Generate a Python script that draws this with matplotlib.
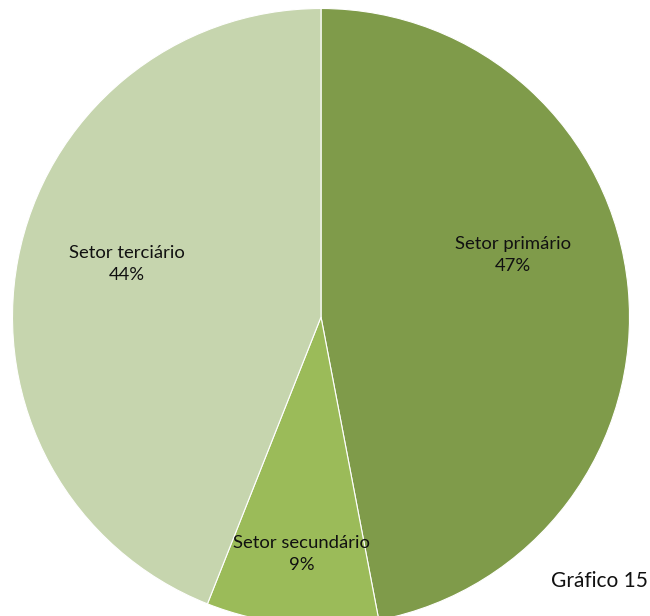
import matplotlib
matplotlib.use("Agg")
import matplotlib.pyplot as plt

# sector shares of the economy
labels = ["Setor primário", "Setor secundário", "Setor terciário"]
shares = [47, 9, 44]
colors = ["#7f9b4a", "#9bbb59", "#c6d5ae"]

fig = plt.figure(figsize=(6.5, 6.16), dpi=100)
ax = fig.add_axes([0, 0, 1, 1])

wedges, _ = ax.pie(shares, colors=colors, startangle=90, counterclock=False,
                   radius=1.0, wedgeprops=dict(edgecolor="white", linewidth=0.8))

# keep the circle round and slightly clipped at the bottom
R = 308.5
ax.set_xlim(-321 / R, 329 / R)
ax.set_ylim(-299 / R, 317 / R)
ax.set_aspect("auto")
ax.axis("off")

label_pos = [(0.622, 0.200), (-0.062, -0.767), (-0.629, 0.171)]
for name, pct, (x, y) in zip(labels, shares, label_pos):
    ax.text(x, y, f"{name}\n{pct}%", ha="center", va="center",
            fontsize=13.3, family="Lato", linespacing=1.45, color="#111111")

fig.text(0.997, 0.057, "Gráfico 15", ha="right", va="center",
         fontsize=15, family="Lato", color="#111111")

fig.savefig("out.png", dpi=100)
